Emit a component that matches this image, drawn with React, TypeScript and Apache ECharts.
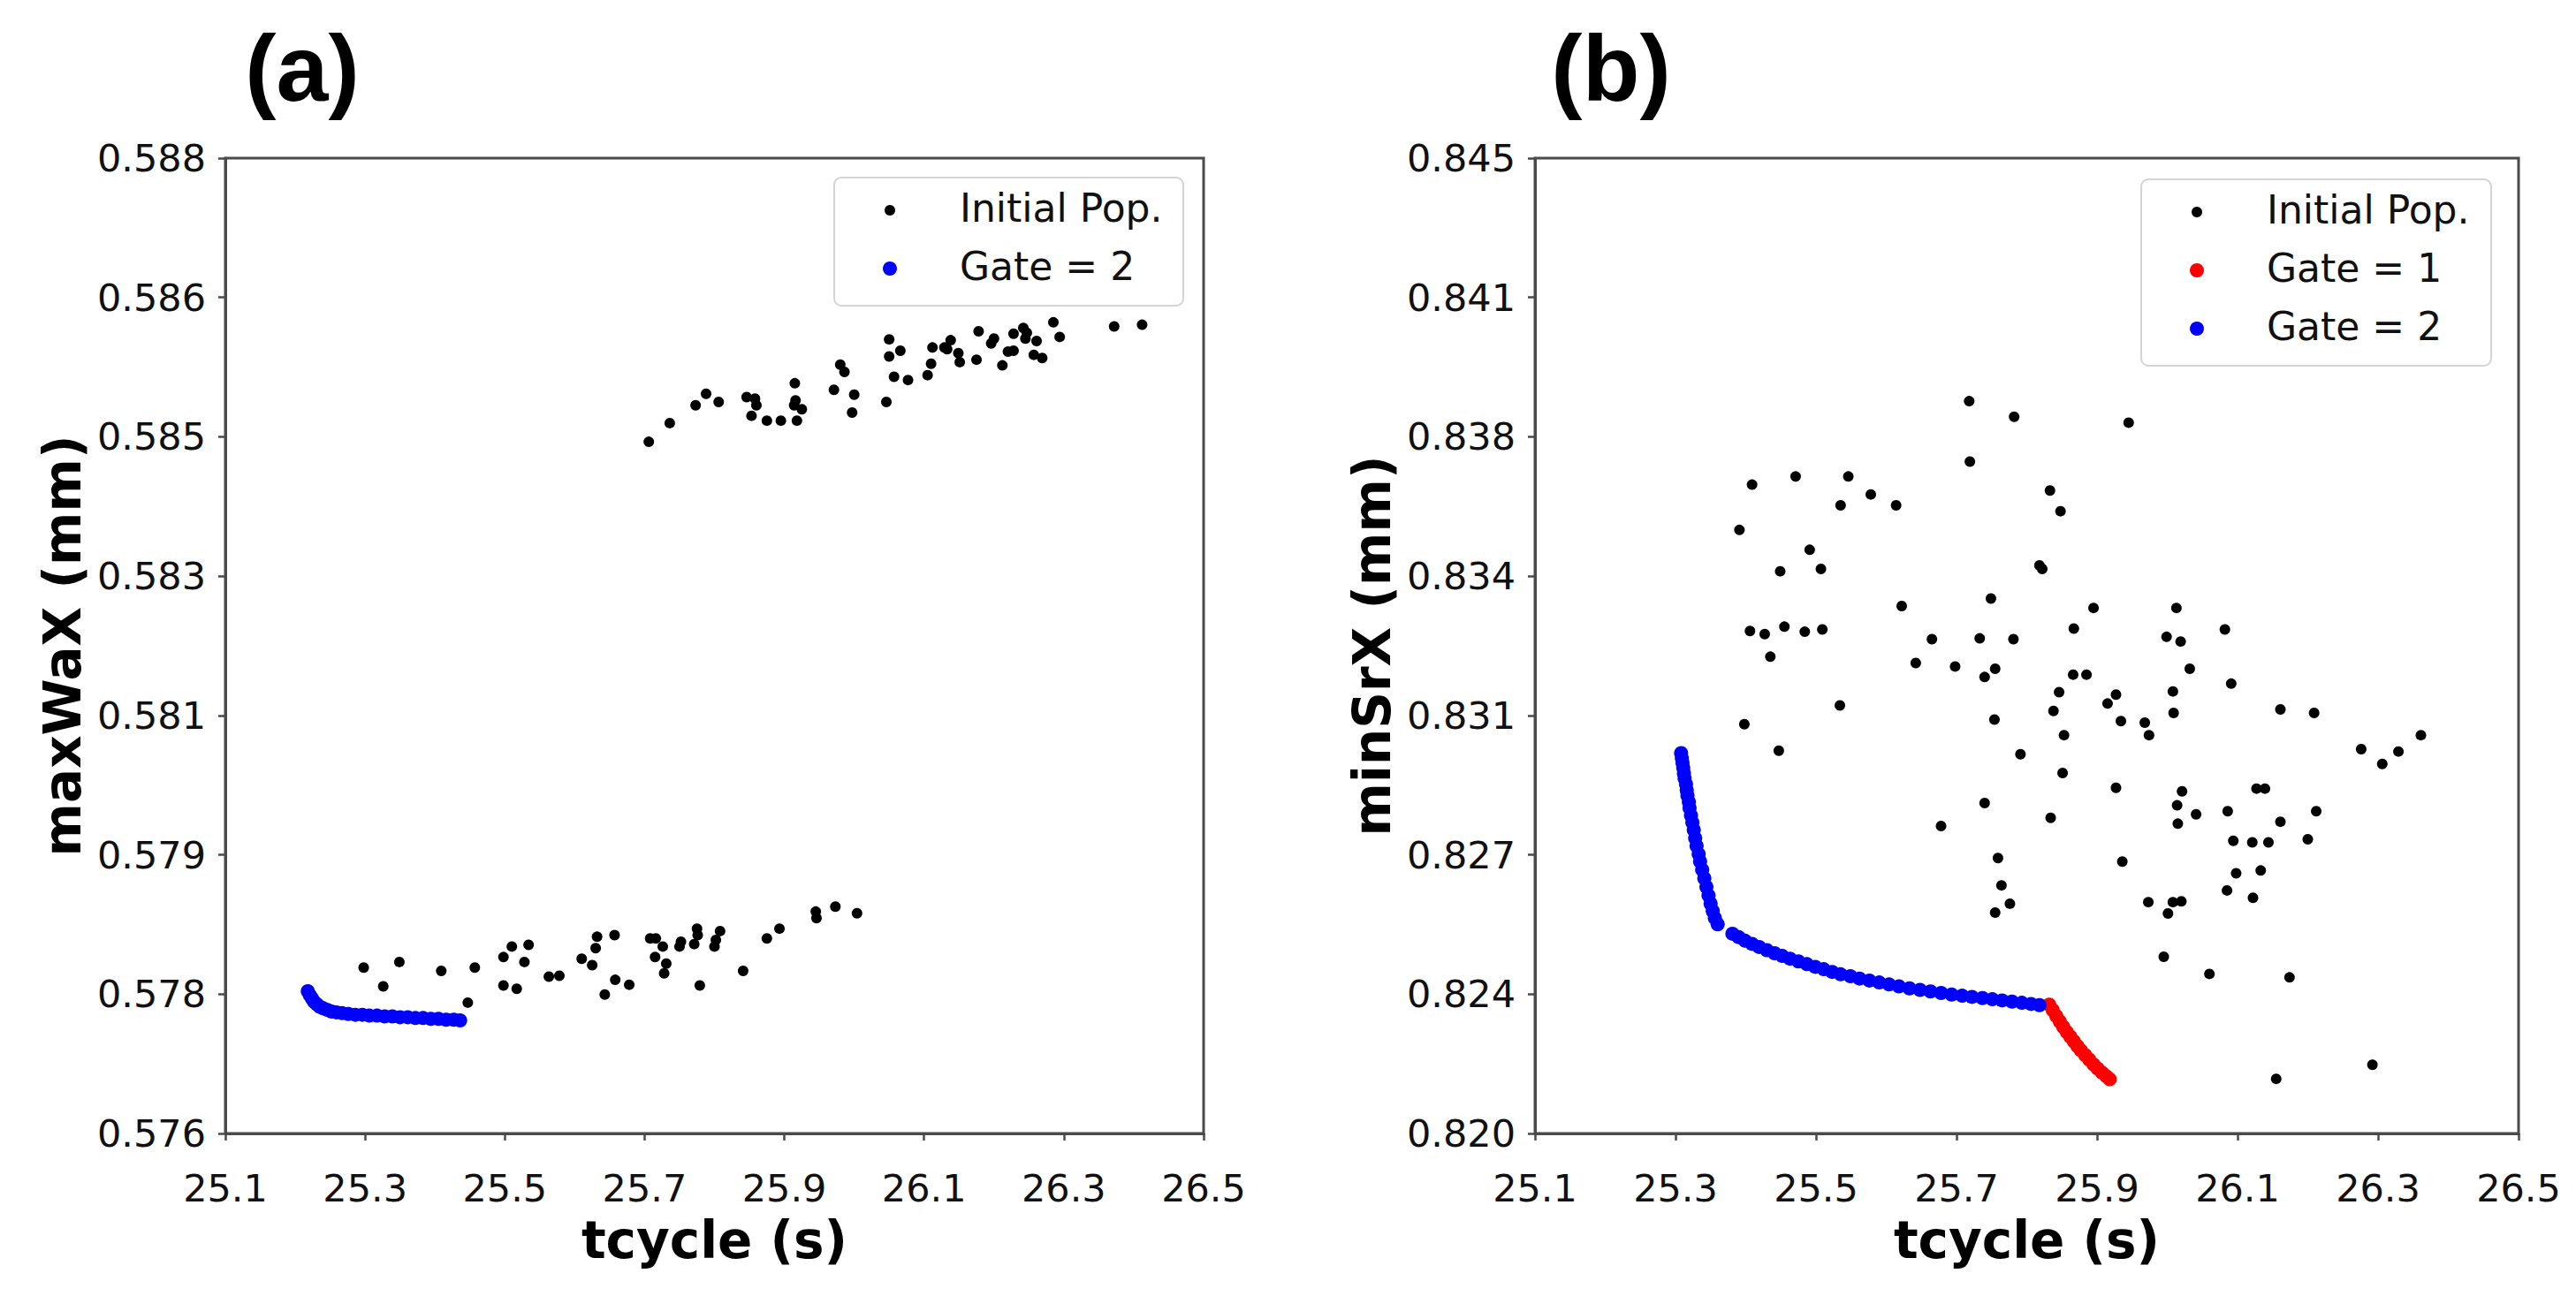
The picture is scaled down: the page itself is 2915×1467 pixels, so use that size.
import { useEffect, useRef } from "react";
import * as echarts from "echarts";

// shared x ticks, y ticks per panel (matplotlib spaced them evenly, labels rounded to 3 dp)
const xTicks = [25.1, 25.3, 25.5, 25.7, 25.9, 26.1, 26.3, 26.5];
const yTicksA = [0.576, 0.577714, 0.579429, 0.581143, 0.582857, 0.584571, 0.586286, 0.588];
const yTicksB = [0.82, 0.823571, 0.827143, 0.830714, 0.834286, 0.837857, 0.841429, 0.845];

const legendNamesA = ["Initial Pop.", "Gate = 2"];
const legendNamesB = ["Initial Pop.", "Gate = 1", "Gate = 2"];

// panel (a): maxWaX vs tcycle
const initialA: [number, number][] = [
  // upper cluster
  [25.706, 0.58451], [25.736, 0.58474], [25.773, 0.58496], [25.788, 0.5851], [25.806, 0.585],
  [25.846, 0.58506], [25.858, 0.58504], [25.86, 0.58496], [25.853, 0.58483], [25.875, 0.58477],
  [25.895, 0.58477], [25.918, 0.58477], [25.915, 0.58523], [25.916, 0.58502], [25.914, 0.58496],
  [25.925, 0.58491], [25.971, 0.58515], [25.98, 0.58546], [25.986, 0.58537], [26.0, 0.58509],
  [25.997, 0.58487], [26.046, 0.585], [26.05, 0.58577], [26.05, 0.58556], [26.066, 0.58563],
  [26.057, 0.58531], [26.077, 0.58527], [26.105, 0.58533], [26.11, 0.58547], [26.112, 0.58567],
  [26.129, 0.58567], [26.138, 0.58576], [26.133, 0.58565], [26.149, 0.5856], [26.151, 0.58549],
  [26.175, 0.58552], [26.178, 0.58587], [26.196, 0.58572], [26.2, 0.58578], [26.212, 0.58545],
  [26.22, 0.58562], [26.228, 0.58563], [26.228, 0.58584], [26.242, 0.58591], [26.245, 0.58578],
  [26.247, 0.58585], [26.257, 0.58558], [26.261, 0.58575], [26.269, 0.58554], [26.285, 0.58598],
  [26.294, 0.5858], [26.372, 0.58593], [26.412, 0.58595],
  // lower cluster
  [25.298, 0.57804], [25.326, 0.57781], [25.349, 0.57811], [25.409, 0.578], [25.457, 0.57804],
  [25.447, 0.57761], [25.498, 0.57817], [25.498, 0.57782], [25.51, 0.5783], [25.517, 0.57778],
  [25.528, 0.57811], [25.534, 0.57832], [25.563, 0.57793], [25.578, 0.57794], [25.61, 0.57815],
  [25.625, 0.57807], [25.632, 0.57842], [25.63, 0.57828], [25.657, 0.57844], [25.658, 0.57789],
  [25.678, 0.57783], [25.643, 0.57771], [25.708, 0.5784], [25.716, 0.5784], [25.715, 0.57817],
  [25.726, 0.5783], [25.731, 0.57809], [25.728, 0.57797], [25.75, 0.5783], [25.752, 0.57836],
  [25.771, 0.57833], [25.775, 0.57852], [25.776, 0.57844], [25.779, 0.57782], [25.8, 0.5783],
  [25.802, 0.57838], [25.808, 0.57849], [25.841, 0.578], [25.875, 0.5784], [25.893, 0.57852],
  [25.945, 0.57873], [25.946, 0.57865], [25.973, 0.57879], [26.004, 0.57871],
];

const gate2A: [number, number][] = [
  [25.218, 0.57775], [25.221, 0.5777], [25.224, 0.57766], [25.227, 0.57762], [25.231, 0.57759],
  [25.235, 0.57756], [25.24, 0.57754], [25.246, 0.57752], [25.252, 0.5775], [25.259, 0.57749],
  [25.267, 0.57748], [25.276, 0.57747], [25.286, 0.57746], [25.296, 0.57746], [25.306, 0.57745],
  [25.317, 0.57745], [25.328, 0.57744], [25.339, 0.57744], [25.35, 0.57743], [25.361, 0.57743],
  [25.372, 0.57742], [25.383, 0.57742], [25.394, 0.57741], [25.405, 0.57741], [25.416, 0.5774],
  [25.427, 0.5774], [25.436, 0.57739],
];

// panel (b): minSrX vs tcycle
const initialB: [number, number][] = [
  [25.391, 0.83547], [25.409, 0.83663], [25.398, 0.83049], [25.406, 0.83288], [25.427, 0.8328],
  [25.435, 0.83222], [25.449, 0.83441], [25.455, 0.83299], [25.447, 0.82981], [25.471, 0.83684],
  [25.484, 0.83286], [25.491, 0.83496], [25.507, 0.83447], [25.509, 0.83292], [25.535, 0.8361],
  [25.534, 0.83097], [25.546, 0.83684], [25.578, 0.83638], [25.614, 0.8361], [25.622, 0.83352],
  [25.642, 0.83206], [25.665, 0.83267], [25.678, 0.82788], [25.698, 0.83197], [25.718, 0.83877],
  [25.719, 0.83722], [25.733, 0.83269], [25.74, 0.8317], [25.755, 0.83191], [25.754, 0.83061],
  [25.759, 0.82706], [25.764, 0.82636], [25.755, 0.82566], [25.776, 0.82589], [25.782, 0.83837],
  [25.781, 0.83267], [25.791, 0.82972], [25.818, 0.83456], [25.822, 0.83447], [25.833, 0.83648],
  [25.834, 0.82809], [25.838, 0.83083], [25.846, 0.83131], [25.848, 0.83595], [25.853, 0.83021],
  [25.851, 0.82924], [25.866, 0.83176], [25.867, 0.83294], [25.885, 0.83176], [25.895, 0.83347],
  [25.915, 0.83102], [25.927, 0.83125], [25.927, 0.82886], [25.934, 0.83057], [25.936, 0.82697],
  [25.945, 0.83822], [25.968, 0.83053], [25.974, 0.83021], [25.973, 0.82593], [25.995, 0.82453],
  [26.001, 0.82564], [26.008, 0.82593], [26.02, 0.82595], [25.999, 0.83273], [26.008, 0.83133],
  [26.009, 0.83078], [26.013, 0.83347], [26.019, 0.83261], [26.014, 0.82841], [26.015, 0.82794],
  [26.021, 0.82877], [26.032, 0.83191], [26.041, 0.82818], [26.06, 0.82409], [26.082, 0.83292],
  [26.086, 0.82826], [26.085, 0.82623], [26.091, 0.83153], [26.094, 0.8275], [26.098, 0.82667],
  [26.121, 0.82746], [26.122, 0.82604], [26.127, 0.82884], [26.133, 0.82674], [26.139, 0.82884],
  [26.144, 0.82746], [26.161, 0.83087], [26.161, 0.82799], [26.174, 0.824], [26.155, 0.8214],
  [26.2, 0.82754], [26.209, 0.83078], [26.212, 0.82826], [26.276, 0.82985], [26.292, 0.82176],
  [26.306, 0.82947], [26.329, 0.82979], [26.361, 0.83021], [25.749, 0.83371], [25.74, 0.82847],
];

const gate1B: [number, number][] = [
  [25.832, 0.8233], [25.837, 0.82316], [25.842, 0.82301], [25.847, 0.82287], [25.852, 0.82273],
  [25.857, 0.8226], [25.862, 0.82248], [25.867, 0.82236], [25.872, 0.82224], [25.877, 0.82213],
  [25.883, 0.82201], [25.889, 0.82189], [25.895, 0.82177], [25.901, 0.82166], [25.907, 0.82156],
  [25.913, 0.82147], [25.918, 0.82139],
];

const gate2B: [number, number][] = [
  [25.308, 0.82975], [25.309, 0.82962], [25.31, 0.8295], [25.311, 0.82937], [25.312, 0.82923],
  [25.313, 0.8291], [25.315, 0.82895], [25.316, 0.8288], [25.317, 0.82866], [25.319, 0.8285],
  [25.32, 0.82834], [25.322, 0.82815], [25.324, 0.82797], [25.326, 0.82778], [25.328, 0.82757],
  [25.33, 0.82737], [25.333, 0.82716], [25.335, 0.82697], [25.338, 0.82676], [25.341, 0.82654],
  [25.344, 0.82632], [25.347, 0.8261], [25.35, 0.82589], [25.353, 0.8257], [25.356, 0.82552],
  [25.36, 0.82536],
  [25.381, 0.82512], [25.39, 0.82503], [25.399, 0.82494], [25.409, 0.82486], [25.419, 0.82478],
  [25.43, 0.8247], [25.441, 0.82462], [25.452, 0.82455], [25.463, 0.82448], [25.475, 0.82441],
  [25.487, 0.82434], [25.499, 0.82427], [25.511, 0.82421], [25.523, 0.82414], [25.535, 0.82408],
  [25.549, 0.82403], [25.562, 0.82397], [25.576, 0.82392], [25.59, 0.82387], [25.604, 0.82382],
  [25.618, 0.82377], [25.633, 0.82372], [25.648, 0.82368], [25.663, 0.82364], [25.678, 0.8236],
  [25.693, 0.82356], [25.708, 0.82353], [25.722, 0.8235], [25.737, 0.82347], [25.751, 0.82344],
  [25.765, 0.82341], [25.779, 0.82338], [25.793, 0.82335], [25.806, 0.82332], [25.818, 0.82329],
];

const FONT = "DejaVu Sans";
const SPINE = "#4a4a4a";

const seriesStyle: Record<string, { color: string; size: number }> = {
  "Initial Pop.": { color: "#000000", size: 12 },
  "Gate = 1": { color: "#ff0000", size: 16 },
  "Gate = 2": { color: "#0000ff", size: 16 },
};

function xAxisFor(gridIndex: number) {
  return {
    type: "value" as const,
    gridIndex,
    min: 25.1,
    max: 26.5,
    name: "tcycle (s)",
    nameLocation: "middle" as const,
    nameGap: 92,
    nameTextStyle: { fontFamily: FONT, fontWeight: "bold" as const, fontSize: 58, color: "#000" },
    axisLine: { show: true, lineStyle: { color: SPINE, width: 3 } },
    axisTick: { show: true, inside: false, length: 8, customValues: xTicks, lineStyle: { color: SPINE, width: 2.5 } },
    axisLabel: {
      customValues: xTicks,
      formatter: (v: number) => v.toFixed(1),
      margin: 40,
      fontFamily: FONT,
      fontSize: 43,
      color: "#111",
    },
    splitLine: { show: false },
  };
}

function yAxisFor(gridIndex: number, name: string, ticks: number[]) {
  return {
    type: "value" as const,
    gridIndex,
    min: ticks[0],
    max: ticks[ticks.length - 1],
    name,
    nameLocation: "middle" as const,
    nameRotate: 90,
    nameGap: 155,
    nameTextStyle: { fontFamily: FONT, fontWeight: "bold" as const, fontSize: 58, color: "#000" },
    axisLine: { show: true, lineStyle: { color: SPINE, width: 3 } },
    axisTick: { show: true, inside: false, length: 8, customValues: ticks, lineStyle: { color: SPINE, width: 2.5 } },
    axisLabel: {
      customValues: ticks,
      formatter: (v: number) => v.toFixed(3),
      margin: 22,
      fontFamily: FONT,
      fontSize: 43,
      color: "#111",
    },
    splitLine: { show: false },
  };
}

// matplotlib-style legend box drawn with graphic elements
function legendBox(left: number, top: number, width: number, names: string[]) {
  const rowGap = 66;
  const first = 37;
  const children: any[] = [
    {
      type: "rect",
      shape: { x: 0, y: 0, width, height: first + rowGap * (names.length - 1) + 42, r: 8 },
      style: { fill: "rgba(255,255,255,0.85)", stroke: "#d4d4d4", lineWidth: 2 },
    },
  ];
  names.forEach((name, i) => {
    const cy = first + i * rowGap;
    const st = seriesStyle[name];
    children.push({
      type: "circle",
      shape: { cx: 63, cy, r: st.size / 2 },
      style: { fill: st.color },
    });
    children.push({
      type: "text",
      x: 142,
      y: cy - 3,
      style: { text: name, fontFamily: FONT, fontSize: 44, fill: "#111", align: "left", verticalAlign: "middle" },
    });
  });
  return { type: "group", x: left, y: top, z: 100, children };
}

function scatter(name: string, x: number, data: [number, number][]) {
  const st = seriesStyle[name];
  return {
    type: "scatter" as const,
    name,
    xAxisIndex: x,
    yAxisIndex: x,
    data,
    symbol: "circle",
    symbolSize: st.size,
    itemStyle: { color: st.color, opacity: 1 },
    emphasis: { disabled: true },
  };
}

export default function App() {
  const ref = useRef<HTMLDivElement>(null);

  useEffect(() => {
    document.body.style.margin = "0";
    const chart = echarts.init(ref.current!, null, { renderer: "svg" });
    chart.setOption({
      animation: false,
      backgroundColor: "#ffffff",
      textStyle: { fontFamily: FONT },
      grid: [
        { left: 255, top: 179, width: 1107, height: 1104, show: true, borderColor: SPINE, borderWidth: 3 },
        { left: 1737, top: 179, width: 1113, height: 1104, show: true, borderColor: SPINE, borderWidth: 3 },
      ],
      xAxis: [xAxisFor(0), xAxisFor(1)],
      yAxis: [yAxisFor(0, "maxWaX (mm)", yTicksA), yAxisFor(1, "minSrX (mm)", yTicksB)],
      graphic: [
        {
          type: "text",
          x: 342,
          y: 77,
          style: { text: "(a)", fontFamily: "Liberation Sans", fontWeight: "bold", fontSize: 106, fill: "#000", align: "center", verticalAlign: "middle" },
        },
        {
          type: "text",
          x: 1823,
          y: 77,
          style: { text: "(b)", fontFamily: "Liberation Sans", fontWeight: "bold", fontSize: 106, fill: "#000", align: "center", verticalAlign: "middle" },
        },
        legendBox(944, 201, 395, legendNamesA),
        legendBox(2423, 203, 396, legendNamesB),
      ],
      series: [
        scatter("Initial Pop.", 0, initialA),
        scatter("Gate = 2", 0, gate2A),
        scatter("Initial Pop.", 1, initialB),
        scatter("Gate = 1", 1, gate1B),
        scatter("Gate = 2", 1, gate2B),
      ],
    });
    return () => chart.dispose();
  }, []);

  return (
    <div
      ref={ref}
      style={{ position: "absolute", left: 0, top: 0, width: 2915, height: 1467, background: "#fff" }}
    />
  );
}
